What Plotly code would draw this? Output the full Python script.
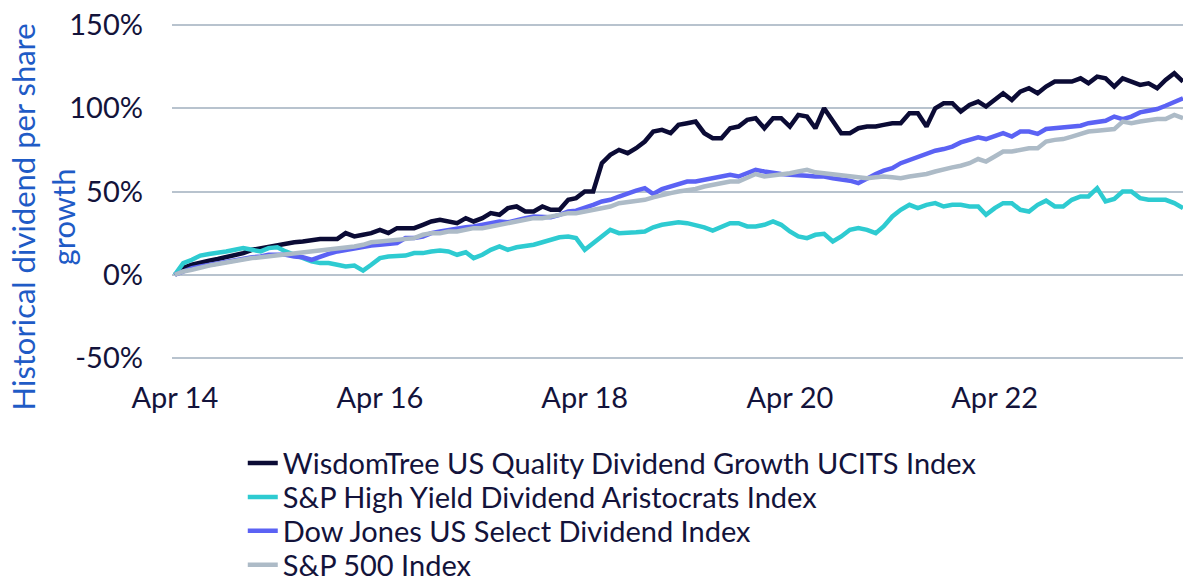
import pandas as pd
import plotly.graph_objects as go

# Monthly observations, Apr 2014 - Feb 2024
dates = pd.date_range("2014-04-01", periods=119, freq="MS")

# Cumulative dividend per share growth, %
wisdomtree = [
    0, 4, 6, 7.5, 8.5, 9.5, 10.5, 11.5, 13, 15, 16, 17,
    18, 19, 19.5, 20, 21, 21.5, 21.5, 21.5, 25, 23, 24, 25,
    27, 25, 28, 28, 28, 30, 32, 33, 32, 31, 34, 32,
    34, 37, 36, 40, 41, 38, 38, 41, 39, 39, 45, 46,
    50, 50, 67, 72, 75, 73, 76, 80, 86, 87, 85, 90,
    91, 92, 85, 82, 82, 88, 89, 93, 94, 88, 94, 94,
    89, 96, 95, 88, 100, 92, 85, 85, 88, 89, 89, 90,
    91, 91, 97, 97, 89, 100, 103, 103, 98, 102, 104, 101,
    105, 109, 105, 110, 112, 109, 113, 116, 116, 116, 118, 115,
    119, 118, 113, 118, 116, 114, 115, 112, 117, 121, 116,
]
sp_high_yield = [
    0, 7, 9, 11.5, 12.5, 13, 14, 15, 16, 15, 14, 16,
    16.5, 14, 12, 10, 8, 7, 7, 6, 5, 5.5, 2.5, 6,
    10, 11, 11, 11.5, 13, 13, 14, 14.5, 14, 12, 13.5, 10,
    12, 15, 17, 15, 16.5, 17, 18, 19.5, 21, 22.5, 23, 22,
    15, 19, 23, 27, 25, 25, 25.5, 26, 28.5, 30, 31, 31.5,
    31, 30, 28.5, 26.5, 28.5, 31, 31, 29, 29, 30, 32, 30,
    26, 23, 22, 24, 24.6, 20, 23, 27, 28, 27, 25, 29,
    35, 39, 42, 40, 42, 43, 41, 42, 42, 41, 41, 36,
    40, 43, 43, 39, 38, 42, 44.5, 41, 41, 45, 47, 47,
    52, 44, 45.5, 50, 50, 46, 45, 45, 45, 43, 40,
]
dow_jones = [
    0, 2, 4, 5, 6, 7, 8, 9, 10, 10.5, 11, 12,
    12, 12, 11, 10.5, 9, 11, 12.5, 14, 15, 16, 17, 17.5,
    18, 18.5, 19, 22, 22, 23, 25, 26, 27, 28, 28.5, 29,
    30, 31, 32, 31.5, 33, 34, 35, 35, 34.5, 36, 38, 38.5,
    40, 42, 44, 45, 47, 49, 50.5, 52, 48.5, 51.5, 53, 54.5,
    56, 56, 57, 58, 59, 60, 59, 61, 63, 62, 61, 60.5,
    60, 60, 59.5, 59, 59, 58, 57.5, 56.5, 55, 58, 60.5, 62.5,
    64, 67, 69, 71, 73, 74.5, 75.5, 77, 79.5, 81, 82.5, 81.5,
    83, 85, 83, 86, 86, 84.6, 87.5, 88, 88, 88.5, 89.5, 91,
    91.5, 92.5, 95, 93.5, 95, 97.5, 98.5, 99.5, 101.5, 104, 106,
]
sp500 = [
    0, 2, 3, 4.5, 5.5, 6.5, 7.5, 8, 9, 10, 10.5, 11,
    12, 12.5, 13, 13.5, 14, 14.5, 15, 15.5, 16, 17, 18, 19.5,
    20, 20.5, 21, 22, 22, 24, 25, 25, 26, 26, 27, 28,
    28, 29, 30, 30.5, 32, 33, 34, 34, 35, 36, 37, 37,
    38, 39, 40, 41, 43, 43.5, 44, 45, 46.5, 48, 49, 50,
    50.5, 51.5, 53, 54, 55, 56, 56, 58, 60.5, 59, 59.5, 60,
    61, 62, 63, 61.5, 61, 60.5, 60, 59.5, 58.5, 58, 58.5, 59,
    58.5, 58, 59, 59.5, 60.5, 62, 63.5, 64.5, 65.5, 67, 69.5, 68,
    71, 74, 74, 75, 76, 76, 80, 81, 81.5, 83, 84.5, 86,
    86.5, 87, 87.5, 92, 91, 92, 93, 93.5, 93.5, 96, 94,
]

y_ticks = [-50, 0, 50, 100, 150]
y_labels = ["-50%", "0%", "50%", "100%", "150%"]

series = [
    ("WisdomTree US Quality Dividend Growth UCITS Index", wisdomtree, "#0b0b35"),
    ("S&P High Yield Dividend Aristocrats Index", sp_high_yield, "#2ecbd1"),
    ("Dow Jones US Select Dividend Index", dow_jones, "#5b62f4"),
    ("S&P 500 Index", sp500, "#adbbc7"),
]

text_col = "#13133b"
font = "Lato, 'Open Sans', sans-serif"

fig = go.Figure()
legend_ids = ["legend", "legend2", "legend3", "legend4"]
for (name, vals, col), lg in zip(series, legend_ids):
    fig.add_trace(go.Scatter(x=dates, y=vals, mode="lines", name=name,
                             line=dict(color=col, width=4.5), legend=lg))

# one legend per row so the rows sit where the original has them
legend_rows = [-0.306, -0.407, -0.507, -0.608]
legends = {}
for lg, ypos in zip(legend_ids, legend_rows):
    legends[lg] = dict(x=0.070, y=ypos, xanchor="left", yanchor="middle",
                       font=dict(size=29, color=text_col, family=font),
                       bgcolor="rgba(0,0,0,0)", borderwidth=0)

# y range padded a little so the -50% and 150% gridlines are not on the edge
fig.update_layout(
    width=1200, height=584,
    margin=dict(l=172, r=17, t=23, b=224, autoexpand=False),
    plot_bgcolor="white", paper_bgcolor="white",
    font=dict(family=font, size=29, color=text_col),
    showlegend=True,
    xaxis=dict(range=["2014-03-22", "2024-02-01"], tickformat="%b %y",
               tick0="2014-04-01", dtick="M24", showgrid=False,
               zeroline=False, showline=False, ticks="",
               ticklabelstandoff=18, automargin=False),
    yaxis=dict(range=[-51.2, 151.2], tickvals=y_ticks, ticktext=y_labels,
               showgrid=True, gridcolor="#b8c3ce", gridwidth=2,
               zeroline=False, showline=False, ticks="",
               ticklabelstandoff=28, automargin=False),
    **legends,
)

fig.add_annotation(
    text="Historical dividend per share<br>growth",
    xref="paper", yref="paper", x=0, y=0.5, yshift=-26,
    xshift=-130, xanchor="center", yanchor="middle",
    textangle=-90, showarrow=False,
    font=dict(size=31, color="#1f5bc6", family=font),
)

# drop the default 8px page margin so the figure fills the window
fig.write_html("out.html", config={"displayModeBar": False},
               post_script="document.body.style.margin='0px';")
